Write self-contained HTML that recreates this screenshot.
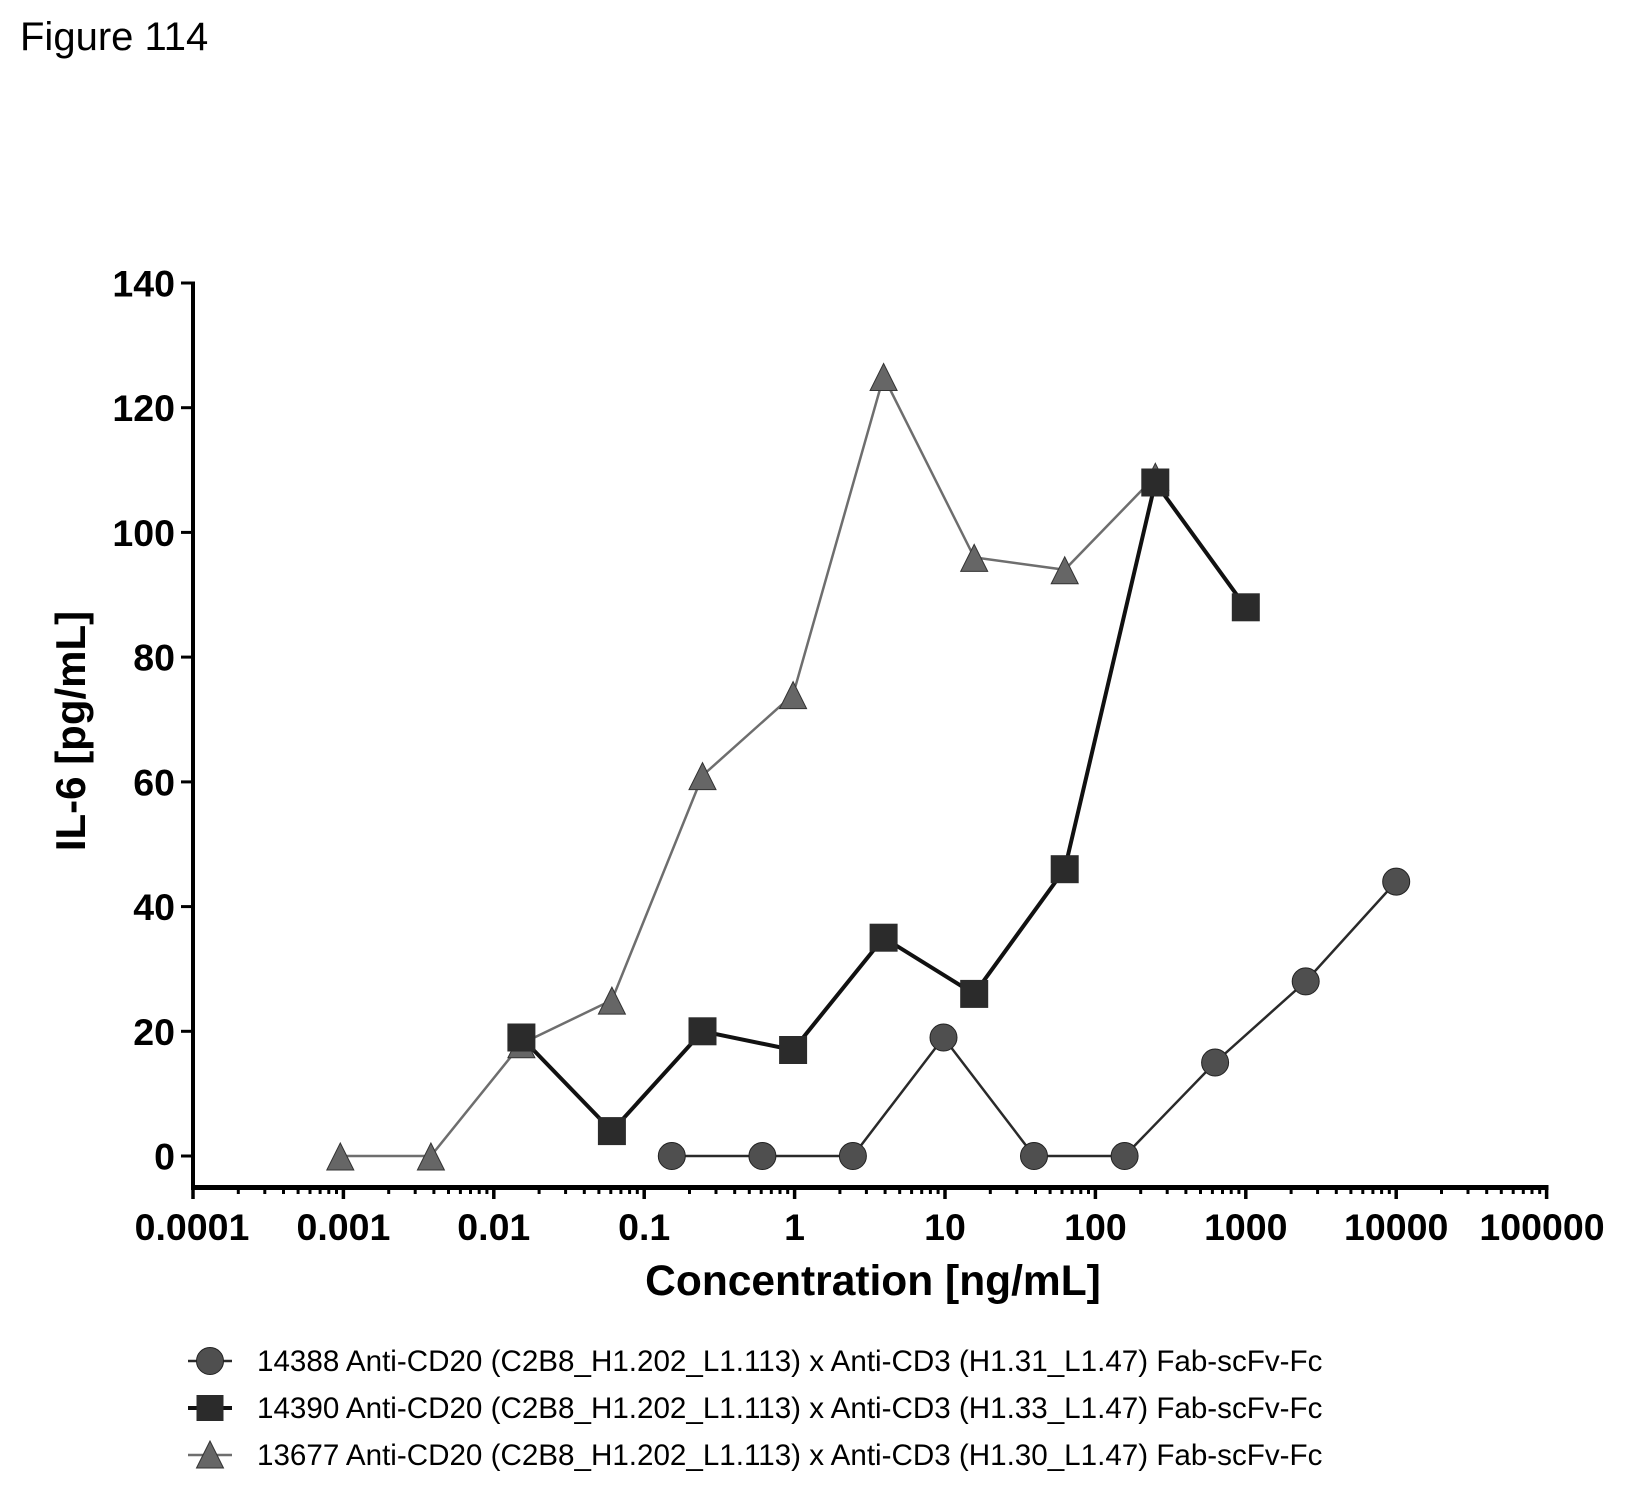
<!DOCTYPE html>
<html>
<head>
<meta charset="utf-8">
<style>
html,body{margin:0;padding:0;background:#fff;}
svg{display:block;}
text{font-family:"Liberation Sans",Arial,sans-serif;fill:#000;}
</style>
</head>
<body>
<svg width="1633" height="1491" viewBox="0 0 1633 1491" xmlns="http://www.w3.org/2000/svg">
<rect x="0" y="0" width="1633" height="1491" fill="#fff"/>

<!-- Title -->
<text x="20" y="50" font-size="40">Figure 114</text>

<!-- Y axis -->
<line x1="193" y1="281.5" x2="193" y2="1189" stroke="#000" stroke-width="4"/>
<g stroke="#000" stroke-width="3">
<line x1="181" y1="283" x2="193" y2="283"/>
<line x1="181" y1="407.7" x2="193" y2="407.7"/>
<line x1="181" y1="532.4" x2="193" y2="532.4"/>
<line x1="181" y1="657.1" x2="193" y2="657.1"/>
<line x1="181" y1="781.9" x2="193" y2="781.9"/>
<line x1="181" y1="906.6" x2="193" y2="906.6"/>
<line x1="181" y1="1031.3" x2="193" y2="1031.3"/>
<line x1="181" y1="1156" x2="193" y2="1156"/>
</g>
<g font-size="37.5" font-weight="bold" text-anchor="end">
<text x="175" y="296.5">140</text>
<text x="175" y="421.2">120</text>
<text x="175" y="545.9">100</text>
<text x="175" y="670.6">80</text>
<text x="175" y="795.4">60</text>
<text x="175" y="920.1">40</text>
<text x="175" y="1044.8">20</text>
<text x="175" y="1169.5">0</text>
</g>
<text transform="translate(85,731) rotate(-90)" font-size="42" font-weight="bold" text-anchor="middle">IL-6 [pg/mL]</text>

<!-- X axis -->
<line x1="191" y1="1187.5" x2="1548.5" y2="1187.5" stroke="#000" stroke-width="5"/>
<g stroke="#000" stroke-width="3.5">
<line x1="193" y1="1187" x2="193" y2="1199"/>
<line x1="343.4" y1="1187" x2="343.4" y2="1199"/>
<line x1="493.8" y1="1187" x2="493.8" y2="1199"/>
<line x1="644.2" y1="1187" x2="644.2" y2="1199"/>
<line x1="794.6" y1="1187" x2="794.6" y2="1199"/>
<line x1="945" y1="1187" x2="945" y2="1199"/>
<line x1="1095.4" y1="1187" x2="1095.4" y2="1199"/>
<line x1="1245.8" y1="1187" x2="1245.8" y2="1199"/>
<line x1="1396.2" y1="1187" x2="1396.2" y2="1199"/>
<line x1="1546.6" y1="1187" x2="1546.6" y2="1199"/>
</g>
<path stroke="#000" stroke-width="3" fill="none" d="
M238.3 1187V1194 M264.8 1187V1194 M283.5 1187V1194 M298.1 1187V1194 M310 1187V1194 M320.1 1187V1194 M328.8 1187V1194 M336.5 1187V1194
M388.7 1187V1194 M415.2 1187V1194 M433.9 1187V1194 M448.5 1187V1194 M460.4 1187V1194 M470.5 1187V1194 M479.2 1187V1194 M486.9 1187V1194
M539.1 1187V1194 M565.6 1187V1194 M584.3 1187V1194 M598.9 1187V1194 M610.8 1187V1194 M620.9 1187V1194 M629.6 1187V1194 M637.3 1187V1194
M689.5 1187V1194 M716 1187V1194 M734.7 1187V1194 M749.3 1187V1194 M761.2 1187V1194 M771.3 1187V1194 M780 1187V1194 M787.7 1187V1194
M839.9 1187V1194 M866.4 1187V1194 M885.1 1187V1194 M899.7 1187V1194 M911.6 1187V1194 M921.7 1187V1194 M930.4 1187V1194 M938.1 1187V1194
M990.3 1187V1194 M1016.8 1187V1194 M1035.5 1187V1194 M1050.1 1187V1194 M1062 1187V1194 M1072.1 1187V1194 M1080.8 1187V1194 M1088.5 1187V1194
M1140.7 1187V1194 M1167.2 1187V1194 M1185.9 1187V1194 M1200.5 1187V1194 M1212.4 1187V1194 M1222.5 1187V1194 M1231.2 1187V1194 M1238.9 1187V1194
M1291.1 1187V1194 M1317.6 1187V1194 M1336.3 1187V1194 M1350.9 1187V1194 M1362.8 1187V1194 M1372.9 1187V1194 M1381.6 1187V1194 M1389.3 1187V1194
M1441.5 1187V1194 M1468 1187V1194 M1486.7 1187V1194 M1501.3 1187V1194 M1513.2 1187V1194 M1523.3 1187V1194 M1532 1187V1194 M1539.7 1187V1194
"/>
<g font-size="37.5" font-weight="bold" text-anchor="middle">
<text x="192" y="1240">0.0001</text>
<text x="343.4" y="1240">0.001</text>
<text x="493.8" y="1240">0.01</text>
<text x="644.2" y="1240">0.1</text>
<text x="794.6" y="1240">1</text>
<text x="945" y="1240">10</text>
<text x="1095.4" y="1240">100</text>
<text x="1245.8" y="1240">1000</text>
<text x="1396.2" y="1240">10000</text>
<text x="1542" y="1240">100000</text>
</g>
<text x="873" y="1295" font-size="42.5" font-weight="bold" text-anchor="middle">Concentration [ng/mL]</text>

<!-- Series 13677 triangles (drawn first) -->
<polyline fill="none" stroke="#6e6e6e" stroke-width="2.5" points="340.3,1156 430.9,1156 521.4,1043.8 611.9,1000.1 702.5,775.6 793.1,694.6 883.6,376.5 974.2,557.4 1064.7,569.8 1155.3,476.3"/>
<g fill="#666" stroke="#333" stroke-width="1">
<polygon points="340.3,1143 326.8,1170 353.8,1170"/>
<polygon points="430.9,1143 417.4,1170 444.4,1170"/>
<polygon points="521.4,1030.8 507.9,1057.8 534.9,1057.8"/>
<polygon points="611.9,987.1 598.4,1014.1 625.4,1014.1"/>
<polygon points="702.5,762.6 689,789.6 716,789.6"/>
<polygon points="793.1,681.6 779.6,708.6 806.6,708.6"/>
<polygon points="883.6,363.5 870.1,390.5 897.1,390.5"/>
<polygon points="974.2,544.4 960.7,571.4 987.7,571.4"/>
<polygon points="1064.7,556.8 1051.2,583.8 1078.2,583.8"/>
<polygon points="1155.3,463.3 1141.8,490.3 1168.8,490.3"/>
</g>

<!-- Series 14390 squares -->
<polyline fill="none" stroke="#111" stroke-width="4" points="521.4,1037.5 611.9,1131.1 702.5,1031.3 793.1,1050 883.6,937.7 974.2,993.9 1064.7,869.2 1155.3,482.5 1245.8,607.3"/>
<g fill="#2b2b2b">
<rect x="507.4" y="1023.5" width="28" height="28"/>
<rect x="597.9" y="1117.1" width="28" height="28"/>
<rect x="688.5" y="1017.3" width="28" height="28"/>
<rect x="779.1" y="1036" width="28" height="28"/>
<rect x="869.6" y="923.7" width="28" height="28"/>
<rect x="960.2" y="979.9" width="28" height="28"/>
<rect x="1050.7" y="855.2" width="28" height="28"/>
<rect x="1141.3" y="468.5" width="28" height="28"/>
<rect x="1231.8" y="593.3" width="28" height="28"/>
</g>

<!-- Series 14388 circles -->
<polyline fill="none" stroke="#2a2a2a" stroke-width="2.5" points="671.8,1156 762.4,1156 852.9,1156 943.5,1037.5 1034,1156 1124.6,1156 1215.1,1062.5 1305.7,981.4 1396.2,881.6"/>
<g fill="#4f4f4f" stroke="#222" stroke-width="1">
<circle cx="671.8" cy="1156" r="13.5"/>
<circle cx="762.4" cy="1156" r="13.5"/>
<circle cx="852.9" cy="1156" r="13.5"/>
<circle cx="943.5" cy="1037.5" r="13.5"/>
<circle cx="1034" cy="1156" r="13.5"/>
<circle cx="1124.6" cy="1156" r="13.5"/>
<circle cx="1215.1" cy="1062.5" r="13.5"/>
<circle cx="1305.7" cy="981.4" r="13.5"/>
<circle cx="1396.2" cy="881.6" r="13.5"/>
</g>

<!-- Legend -->
<line x1="188" y1="1361" x2="232" y2="1361" stroke="#2a2a2a" stroke-width="2.5"/>
<circle cx="210" cy="1361" r="13.5" fill="#4f4f4f" stroke="#222" stroke-width="1"/>
<text x="257" y="1371" font-size="29.6">14388 Anti-CD20 (C2B8_H1.202_L1.113) x Anti-CD3 (H1.31_L1.47) Fab-scFv-Fc</text>

<line x1="188" y1="1408" x2="232" y2="1408" stroke="#111" stroke-width="4"/>
<rect x="196.5" y="1395" width="27" height="26" fill="#2b2b2b"/>
<text x="257" y="1418" font-size="29.6">14390 Anti-CD20 (C2B8_H1.202_L1.113) x Anti-CD3 (H1.33_L1.47) Fab-scFv-Fc</text>

<line x1="188" y1="1455" x2="232" y2="1455" stroke="#6e6e6e" stroke-width="2.5"/>
<polygon points="210,1441 196.5,1468 223.5,1468" fill="#666" stroke="#333" stroke-width="1"/>
<text x="257" y="1465" font-size="29.6">13677 Anti-CD20 (C2B8_H1.202_L1.113) x Anti-CD3 (H1.30_L1.47) Fab-scFv-Fc</text>
</svg>
</body>
</html>
